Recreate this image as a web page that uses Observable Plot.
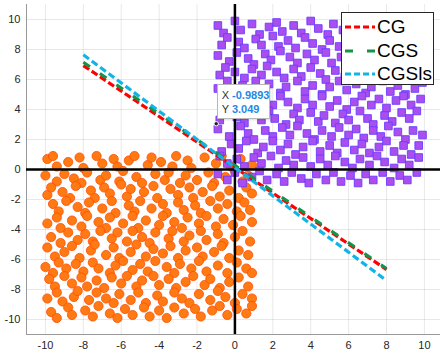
<!DOCTYPE html>
<html>
<head>
<meta charset="utf-8">
<script src="https://cdn.jsdelivr.net/npm/d3@7"></script>
<script src="https://cdn.jsdelivr.net/npm/@observablehq/plot@0.6"></script>
<style>
  html, body { margin: 0; padding: 0; background: #fff; }
  #wrap { position: relative; width: 440px; height: 353px; font-family: "Liberation Sans", Arial, sans-serif; }
  #legend { position: absolute; left: 341px; top: 12px; width: 93px; height: 73px; background: #fff; border: 1px solid #262626; box-sizing: border-box; }
  .lrow { position: absolute; left: 0; height: 22px; display: flex; align-items: center; }
  .lrow svg { margin-left: 3px; }
  .lrow span { font-size: 19px; color: #000; margin-left: 2px; }
  #tip { position: absolute; background: #fff; border: 1px solid #b8b8b8; box-sizing: border-box; box-shadow: 1px 1px 2px rgba(0,0,0,0.15); font-size: 11px; color: #333; line-height: 14px; padding: 3px 0 0 4px; white-space: nowrap; }
  #tip b { color: #1e88e5; font-weight: bold; }
</style>
</head>
<body>
<div id="wrap"></div>
<script>
const xTicks = [-10, -8, -6, -4, -2, 0, 2, 4, 6, 8, 10];
const yTicks = [-10, -8, -6, -4, -2, 0, 2, 4, 6, 8, 10];

// Line endpoints
const seriesNames = ["CG", "CGS", "CGSls"];
const seriesColors = ["#ff0000", "#14934a", "#12b4e6"];
const seriesDash = ["7,3", "8,12", "7,3.5"];
const lineX = [-8, 8];
const cgY = [6.93, -6.67];
const cgsY = [7.15, -6.6];
const cgslsY = [7.65, -7.4];

// Data tip
const tipX = -0.9893;
const tipY = 3.049;

// Orange circles (lower-left cloud)
const orangePts = [
[-9.9,0.7],[-9.6,0.9],[-9.4,0.2],[-8.8,0.5],[-8.2,0.8],[-8.0,0.1],[-7.3,0.9],[-7.0,0.4],[-6.4,0.7],[-6.2,0.2],[-5.6,0.6],[-5.3,0.9],[-4.6,0.3],[-4.4,0.8],[-3.9,0.5],[-3.3,0.2],[-3.1,0.9],[-2.5,0.6],[-2.3,0.1],[-1.6,0.8],[-1.0,0.4],[-0.7,0.9],[-0.2,0.2],[0.3,0.7],[0.9,0.3],
[-10.0,-0.4],[-9.4,-0.8],[-9.0,-0.3],[-8.5,-0.6],[-8.1,-0.9],[-7.8,-0.2],[-7.1,-0.7],[-6.8,-0.4],[-6.1,-0.8],[-5.9,-0.1],[-5.2,-0.5],[-4.9,-0.9],[-4.2,-0.3],[-3.7,-0.7],[-3.5,-0.2],[-2.9,-0.9],[-2.6,-0.4],[-2.0,-0.7],[-1.4,-0.2],[-1.1,-0.9],[-0.5,-0.5],[0.0,-0.1],[0.4,-0.8],[0.7,-0.4],
[-9.9,-1.7],[-9.7,-1.2],[-9.1,-1.5],[-8.7,-1.9],[-8.4,-1.1],[-7.6,-1.4],[-7.4,-1.9],[-6.9,-1.2],[-6.6,-1.6],[-6.0,-1.0],[-5.7,-1.8],[-5.5,-1.3],[-4.8,-1.5],[-4.3,-1.1],[-4.1,-1.9],[-3.4,-1.3],[-3.0,-1.7],[-2.4,-1.2],[-2.2,-1.9],[-1.7,-1.5],[-1.2,-1.1],[-0.8,-1.8],[-0.3,-1.4],[0.2,-1.9],[0.6,-1.2],[0.9,-1.6],
[-9.6,-2.3],[-9.3,-2.8],[-8.9,-2.1],[-8.3,-2.5],[-7.9,-2.9],[-7.7,-2.2],[-7.0,-2.6],[-6.5,-2.1],[-6.3,-2.9],[-5.6,-2.4],[-5.3,-2.8],[-5.0,-2.1],[-4.4,-2.6],[-3.8,-2.3],[-3.6,-2.9],[-3.0,-2.2],[-2.7,-2.7],[-2.1,-2.4],[-1.8,-2.9],[-1.3,-2.1],[-0.9,-2.6],[-0.4,-2.3],[0.1,-2.8],[0.5,-2.2],[0.8,-2.7],
[-9.9,-3.6],[-9.4,-3.2],[-9.2,-3.9],[-8.6,-3.4],[-8.1,-3.8],[-7.8,-3.1],[-7.2,-3.5],[-6.8,-3.9],[-6.6,-3.2],[-5.9,-3.6],[-5.4,-3.1],[-5.1,-3.9],[-4.7,-3.4],[-4.0,-3.7],[-3.8,-3.1],[-3.2,-3.5],[-2.8,-3.9],[-2.5,-3.2],[-1.9,-3.6],[-1.5,-3.1],[-1.0,-3.8],[-0.6,-3.3],[-0.1,-3.7],[0.3,-3.1],[0.9,-3.5],
[-9.7,-4.5],[-9.2,-4.9],[-8.8,-4.2],[-8.3,-4.7],[-7.9,-4.3],[-7.5,-4.8],[-7.1,-4.1],[-6.5,-4.6],[-6.2,-4.2],[-5.7,-4.8],[-5.4,-4.1],[-4.9,-4.5],[-4.5,-4.9],[-4.2,-4.2],[-3.5,-4.6],[-3.3,-4.1],[-2.7,-4.8],[-2.4,-4.4],[-1.8,-4.1],[-1.5,-4.7],[-0.9,-4.3],[-0.6,-4.9],[0.0,-4.5],[0.4,-4.1],[0.8,-4.8],
[-9.9,-5.2],[-9.5,-5.8],[-9.0,-5.5],[-8.6,-5.1],[-8.2,-5.9],[-7.6,-5.4],[-7.4,-5.0],[-6.8,-5.7],[-6.4,-5.2],[-6.1,-5.9],[-5.5,-5.5],[-5.2,-5.0],[-4.7,-5.8],[-4.3,-5.3],[-3.8,-5.6],[-3.4,-5.1],[-3.0,-5.9],[-2.6,-5.4],[-2.0,-5.2],[-1.7,-5.8],[-1.1,-5.5],[-0.7,-5.1],[-0.3,-5.9],[0.2,-5.4],[0.7,-5.7],
[-10.0,-6.5],[-9.6,-6.9],[-9.3,-6.2],[-8.9,-6.6],[-8.4,-6.3],[-8.0,-6.8],[-7.5,-6.2],[-7.2,-6.6],[-6.6,-6.9],[-6.3,-6.4],[-5.9,-6.1],[-5.4,-6.7],[-5.0,-6.3],[-4.6,-6.8],[-4.2,-6.1],[-3.6,-6.5],[-3.2,-6.9],[-2.9,-6.3],[-2.3,-6.6],[-1.9,-6.1],[-1.5,-6.8],[-0.9,-6.4],[-0.4,-6.9],[0.1,-6.2],[0.6,-6.6],[0.9,-6.9],
[-9.8,-7.3],[-9.5,-7.8],[-9.0,-7.1],[-8.6,-7.6],[-8.1,-7.2],[-7.8,-7.8],[-7.3,-7.4],[-6.9,-7.9],[-6.5,-7.2],[-6.0,-7.6],[-5.7,-7.1],[-5.2,-7.8],[-4.9,-7.4],[-4.3,-7.1],[-4.0,-7.7],[-3.5,-7.3],[-3.1,-7.9],[-2.6,-7.5],[-2.2,-7.1],[-1.6,-7.7],[-1.3,-7.3],[-0.8,-7.9],[-0.3,-7.5],[0.2,-7.2],[0.7,-7.8],
[-9.9,-8.6],[-9.4,-8.2],[-9.1,-8.8],[-8.5,-8.5],[-8.3,-8.1],[-7.7,-8.7],[-7.3,-8.2],[-6.8,-8.6],[-6.4,-8.9],[-6.1,-8.3],[-5.5,-8.7],[-5.1,-8.2],[-4.7,-8.9],[-4.1,-8.4],[-3.8,-8.8],[-3.2,-8.2],[-2.8,-8.6],[-2.4,-8.9],[-1.9,-8.3],[-1.3,-8.7],[-0.9,-8.1],[-0.5,-8.5],[0.0,-8.9],[0.4,-8.3],[0.9,-8.6],
[-9.7,-9.5],[-9.4,-9.9],[-8.8,-9.2],[-8.6,-9.7],[-7.9,-9.4],[-7.5,-9.8],[-7.2,-9.1],[-6.6,-9.6],[-6.2,-9.9],[-5.8,-9.3],[-5.4,-9.7],[-4.8,-9.2],[-4.5,-9.8],[-4.0,-9.4],[-3.6,-9.9],[-3.2,-9.2],[-2.7,-9.6],[-2.1,-9.3],[-1.8,-9.8],[-1.2,-9.4],[-0.8,-9.1],[-0.4,-9.7],[0.1,-9.3],[0.6,-9.6],[0.9,-9.1]
];

// Purple squares (upper-right cloud)
const purplePts = [
[-0.9,9.6],[-0.6,9.1],[0.0,9.9],[0.3,9.3],[0.9,9.7],[1.3,9.0],[1.8,9.5],[2.2,9.8],[2.5,9.2],[3.1,9.6],[3.5,9.1],[4.0,9.9],[4.4,9.4],[4.9,9.0],[5.2,9.7],[5.7,9.3],[6.1,9.8],[6.6,9.1],[7.0,9.5],[7.5,9.9],[7.9,9.2],[8.5,9.6],[8.8,9.1],[9.4,9.8],[9.8,9.3],
[-0.7,8.3],[-0.4,8.8],[0.2,8.5],[0.5,8.1],[1.1,8.7],[1.4,8.3],[2.0,8.9],[2.3,8.2],[2.8,8.6],[3.2,8.1],[3.7,8.8],[4.1,8.4],[4.6,8.0],[5.0,8.6],[5.5,8.2],[5.9,8.9],[6.3,8.4],[6.8,8.8],[7.2,8.1],[7.8,8.5],[8.1,8.9],[8.7,8.3],[9.1,8.7],[9.6,8.1],[9.9,8.5],
[-0.9,7.6],[-0.3,7.2],[0.1,7.8],[0.7,7.4],[1.0,7.0],[1.6,7.7],[1.9,7.3],[2.4,7.9],[2.9,7.5],[3.3,7.1],[3.8,7.7],[4.2,7.3],[4.8,7.8],[5.1,7.1],[5.6,7.5],[6.0,7.9],[6.5,7.2],[6.9,7.6],[7.4,7.0],[7.7,7.8],[8.3,7.4],[8.6,7.9],[9.1,7.2],[9.5,7.6],[9.9,7.1],
[-0.8,6.3],[-0.5,6.8],[0.0,6.5],[0.5,6.1],[0.9,6.7],[1.4,6.3],[1.7,6.9],[2.2,6.5],[2.6,6.1],[3.1,6.7],[3.5,6.2],[4.0,6.8],[4.5,6.4],[4.8,6.0],[5.3,6.6],[5.8,6.2],[6.1,6.9],[6.6,6.5],[7.0,6.1],[7.4,6.7],[7.9,6.3],[8.3,6.9],[8.8,6.4],[9.2,6.0],[9.7,6.6],
[-0.9,5.4],[-0.4,5.9],[0.1,5.2],[0.4,5.6],[1.1,5.9],[1.3,5.3],[1.8,5.7],[2.4,5.1],[2.7,5.5],[3.3,5.9],[3.7,5.2],[4.1,5.6],[4.6,5.0],[5.0,5.5],[5.5,5.9],[5.9,5.3],[6.4,5.7],[6.9,5.1],[7.2,5.5],[7.8,5.9],[8.2,5.2],[8.6,5.6],[9.0,5.0],[9.5,5.4],[9.9,5.8],
[-0.7,4.6],[-0.2,4.1],[0.2,4.8],[0.7,4.4],[1.1,4.0],[1.5,4.7],[2.0,4.3],[2.4,4.9],[2.8,4.5],[3.3,4.1],[3.7,4.7],[4.1,4.3],[4.6,4.9],[5.0,4.2],[5.4,4.6],[5.9,4.0],[6.3,4.5],[6.7,4.9],[7.2,4.3],[7.6,4.7],[8.0,4.1],[8.5,4.6],[8.9,4.9],[9.3,4.3],[9.8,4.7],
[-0.8,3.3],[-0.6,3.8],[0.1,3.5],[0.5,3.1],[0.8,3.7],[1.4,3.3],[1.8,3.9],[2.1,3.4],[2.7,3.0],[3.1,3.7],[3.4,3.3],[4.0,3.8],[4.4,3.2],[4.7,3.6],[5.3,3.1],[5.7,3.7],[6.0,3.3],[6.6,3.9],[7.0,3.4],[7.3,3.0],[7.9,3.6],[8.3,3.2],[8.8,3.8],[9.2,3.4],[9.6,3.9],
[-0.9,2.7],[-0.3,2.2],[0.3,2.9],[0.7,2.4],[1.0,2.0],[1.6,2.6],[2.0,2.2],[2.5,2.8],[2.9,2.3],[3.3,2.9],[3.8,2.4],[4.2,2.0],[4.6,2.6],[5.1,2.2],[5.5,2.8],[6.0,2.3],[6.4,2.7],[6.8,2.1],[7.3,2.6],[7.7,2.2],[8.1,2.9],[8.6,2.5],[9.0,2.0],[9.4,2.6],[9.9,2.3],
[-0.7,1.2],[-0.2,1.7],[0.2,1.4],[0.6,1.9],[1.2,1.1],[1.5,1.5],[2.0,1.9],[2.4,1.3],[2.8,1.7],[3.2,1.0],[3.6,1.5],[4.1,1.9],[4.5,1.2],[5.0,1.6],[5.4,1.1],[5.8,1.8],[6.3,1.3],[6.7,1.7],[7.1,1.1],[7.6,1.5],[8.0,1.9],[8.4,1.2],[8.9,1.6],[9.3,1.0],[9.7,1.6],
[-0.8,0.9],[-0.4,0.4],[0.1,0.7],[0.5,0.2],[1.0,0.8],[1.4,0.4],[1.9,0.9],[2.3,0.1],[2.7,0.6],[3.1,0.3],[3.6,0.8],[4.0,0.2],[4.5,0.7],[4.9,0.3],[5.3,0.9],[5.8,0.5],[6.2,0.1],[6.6,0.7],[7.1,0.3],[7.5,0.9],[7.9,0.5],[8.4,0.1],[8.8,0.7],[9.2,0.3],[9.7,0.8],
[-0.9,-0.3],[-0.4,-0.7],[0.0,-0.2],[0.4,-0.9],[0.9,-0.5],[1.3,-0.1],[1.7,-0.7],[2.2,-0.3],[2.6,-0.8],[3.0,-0.2],[3.5,-0.6],[3.9,-0.9],[4.3,-0.3],[4.8,-0.7],[5.2,-0.2],[5.6,-0.8],[6.1,-0.4],[6.5,-0.9],[6.9,-0.3],[7.3,-0.7],[7.8,-0.2],[8.2,-0.8],[8.7,-0.4],[9.1,-0.7],[9.6,-0.2]
];

const lines = [];
[cgY, cgsY, cgslsY].forEach((ys, i) => {
  lineX.forEach((x, j) => lines.push({series: seriesNames[i], x, y: ys[j]}));
});

const chart = Plot.plot({
  width: 440,
  height: 353,
  marginLeft: 26,
  marginRight: 0,
  marginTop: 4,
  marginBottom: 19,
  x: {domain: [-11, 10.85]},
  y: {domain: [-11, 11]},
  style: {fontFamily: "Liberation Sans, Arial, sans-serif", fontSize: "11px", color: "#262626", background: "#fff"},
  marks: [
    Plot.gridX(xTicks, {stroke: "#000", strokeOpacity: 0.09}),
    Plot.gridY(yTicks, {stroke: "#000", strokeOpacity: 0.09}),
    Plot.axisX(xTicks, {tickSize: 0, tickPadding: 7, label: null, tickFormat: d => d}),
    Plot.axisY(yTicks, {tickSize: 0, tickPadding: 6, label: null, tickFormat: d => d}),
    Plot.ruleX([-11], {stroke: "#999", strokeWidth: 1}),
    Plot.ruleY([-11], {stroke: "#999", strokeWidth: 1}),
    Plot.dot(orangePts, {x: d => d[0], y: d => d[1], r: 4.6, fill: "#ff7a12", stroke: "#ff4d00", strokeWidth: 0.8}),
    Plot.dot(purplePts, {x: d => d[0], y: d => d[1], symbol: "square", r: 4.3, fill: "#aa4ef0", stroke: "#6a3cff", strokeWidth: 0.9}),
    Plot.ruleX([0], {stroke: "#000", strokeWidth: 2.5}),
    Plot.ruleY([0], {stroke: "#000", strokeWidth: 2.5}),
    ...seriesNames.map((name, i) => Plot.line(lines.filter(d => d.series === name), {
      x: "x", y: "y", stroke: seriesColors[i], strokeWidth: 3.2, strokeDasharray: seriesDash[i], strokeLinecap: "butt"
    })),
    Plot.dot([[tipX, tipY]], {x: d => d[0], y: d => d[1], r: 2.2, fill: "#222", stroke: "#fff", strokeWidth: 1})
  ]
});

const wrap = document.getElementById("wrap");
wrap.appendChild(chart);

// Legend
const legend = document.createElement("div");
legend.id = "legend";
seriesNames.forEach((name, i) => {
  const row = document.createElement("div");
  row.className = "lrow";
  row.style.top = (3 + i * 23.5) + "px";
  row.innerHTML = `<svg width="30" height="6"><line x1="0" y1="3" x2="30" y2="3" stroke="${seriesColors[i]}" stroke-width="3" stroke-dasharray="${i === 1 ? "8,14" : "6,3"}"/></svg><span>${name}</span>`;
  legend.appendChild(row);
});
wrap.appendChild(legend);

// Data tip box
const px = chart.scale("x").apply(tipX);
const py = chart.scale("y").apply(tipY);
const tip = document.createElement("div");
tip.id = "tip";
tip.style.left = (px + 1) + "px";
tip.style.top = (py - 39) + "px";
tip.style.width = "53px";
tip.style.height = "35px";
tip.innerHTML = `X <b>${tipX}</b><br>Y <b>${tipY}</b>`;
wrap.appendChild(tip);
</script>
</body>
</html>
